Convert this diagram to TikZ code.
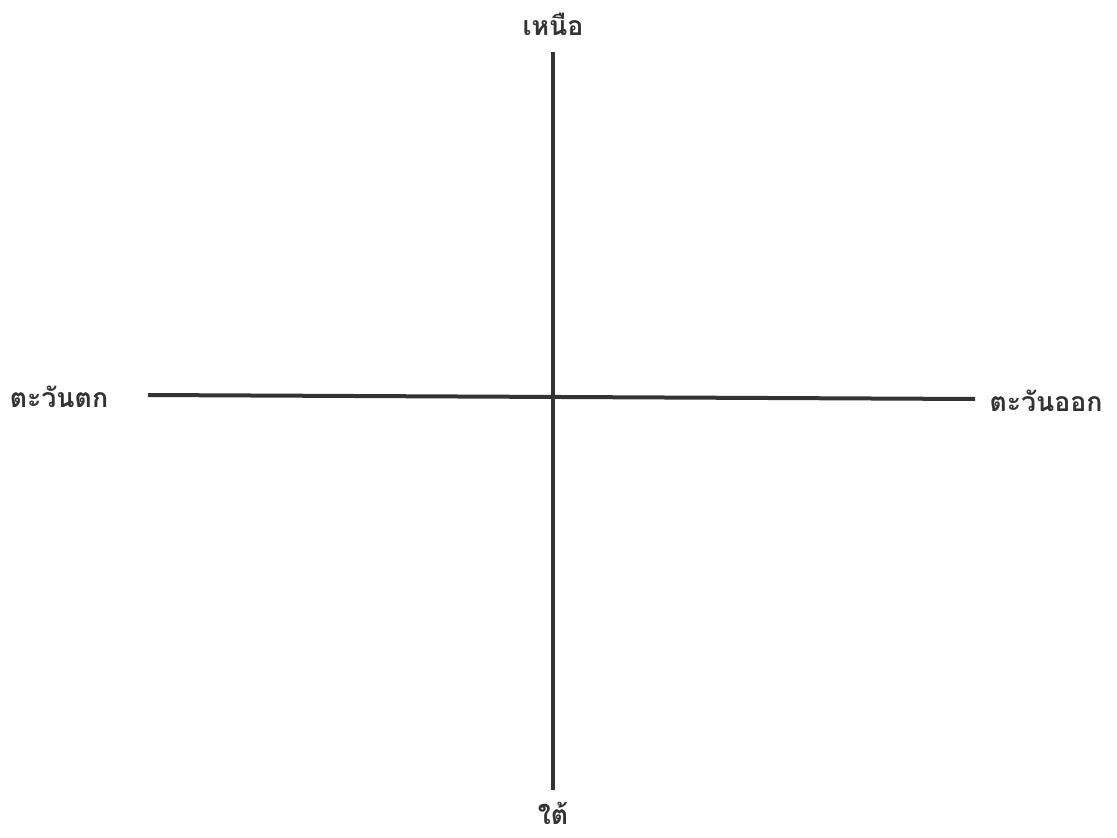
\documentclass[tikz,border=0pt]{standalone}
\usepackage{fontspec}
\newfontfamily\thaifont[Script=Thai]{Loma}
\definecolor{ink}{HTML}{333333}
\begin{document}
\begin{tikzpicture}[x=0.75pt,y=-0.75pt,
  axis/.style={draw=ink,line width=3pt},
  lbl/.style={text=ink,font=\thaifont\bfseries\fontsize{20}{24}\selectfont,inner sep=0pt}]
\useasboundingbox (0,0) rectangle (1117,838);
\coordinate (n) at (553,52);
\coordinate (s) at (553,790);
\coordinate (w) at (148,395);
\coordinate (e) at (975,399);
\draw[axis] (n) -- (s);
\draw[axis] (w) -- (e);
\node[lbl] (ln) at (553,24) {เหนือ};
\node[lbl] (ls) at (553,813) {ใต้};
\node[lbl] (lw) at (59,397) {ตะวันตก};
\node[lbl] (le) at (1046,401) {ตะวันออก};
\end{tikzpicture}
\end{document}
